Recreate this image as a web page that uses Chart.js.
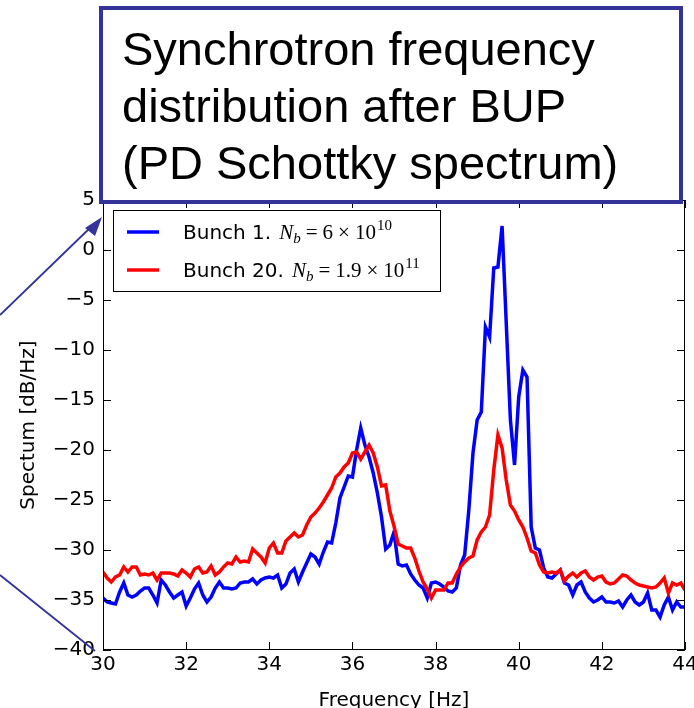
<!DOCTYPE html>
<html>
<head>
<meta charset="utf-8">
<script src="https://cdn.jsdelivr.net/npm/chart.js@4.4.1/dist/chart.umd.min.js"></script>
<style>
    body { margin: 0; background: #fff; }
    canvas { display: block; }
</style>
</head>
<body>
<canvas id="espectro" width="694" height="708"></canvas>
<script>
// Frequências [Hz]
const frequencias = [
    30.0, 30.1, 30.2, 30.3, 30.4, 30.5, 30.6, 30.7, 30.8, 30.9,
    31.0, 31.1, 31.2, 31.3, 31.4, 31.5, 31.6, 31.7, 31.8, 31.9,
    32.0, 32.1, 32.2, 32.3, 32.4, 32.5, 32.6, 32.7, 32.8, 32.9,
    33.0, 33.1, 33.2, 33.3, 33.4, 33.5, 33.6, 33.7, 33.8, 33.9,
    34.0, 34.1, 34.2, 34.3, 34.4, 34.5, 34.6, 34.7, 34.8, 34.9,
    35.0, 35.1, 35.2, 35.3, 35.4, 35.5, 35.6, 35.7, 35.8, 35.9,
    36.0, 36.1, 36.2, 36.3, 36.4, 36.5, 36.6, 36.7, 36.8, 36.9,
    37.0, 37.1, 37.2, 37.3, 37.4, 37.5, 37.6, 37.7, 37.8, 37.9,
    38.0, 38.1, 38.2, 38.3, 38.4, 38.5, 38.6, 38.7, 38.8, 38.9,
    39.0, 39.1, 39.2, 39.3, 39.4, 39.5, 39.6, 39.7, 39.8, 39.9,
    40.0, 40.1, 40.2, 40.3, 40.4, 40.5, 40.6, 40.7, 40.8, 40.9,
    41.0, 41.1, 41.2, 41.3, 41.4, 41.5, 41.6, 41.7, 41.8, 41.9,
    42.0, 42.1, 42.2, 42.3, 42.4, 42.5, 42.6, 42.7, 42.8, 42.9,
    43.0, 43.1, 43.2, 43.3, 43.4, 43.5, 43.6, 43.7, 43.8, 43.9,
    44.0
];

// Bunch 1 [dB/Hz]
const bunch1 = [
    -34.8, -35.2, -35.3, -35.4, -34.2, -33.3, -34.5, -34.7, -34.5, -34.1,
    -33.8, -33.8, -34.5, -35.3, -33.0, -33.5, -34.2, -34.8, -34.5, -34.2,
    -35.6, -34.8, -33.9, -33.3, -34.5, -35.2, -34.7, -33.8, -33.2, -33.8,
    -33.8, -33.9, -33.8, -33.3, -33.2, -33.2, -32.9, -33.4, -33.0, -32.8,
    -32.7, -32.8, -32.5, -33.8, -33.4, -32.3, -31.9, -33.2, -32.2, -31.3,
    -30.4, -30.7, -31.4, -30.2, -29.2, -29.3, -27.3, -24.8, -23.7, -22.6,
    -22.7, -20.0, -17.8, -19.5, -20.7, -22.3, -24.3, -26.7, -29.9, -29.5,
    -28.2, -31.4, -31.6, -31.5, -32.4, -33.0, -33.5, -33.8, -34.8, -33.3,
    -33.2, -33.4, -33.7, -34.1, -34.2, -33.8, -31.5, -30.5, -26.0, -20.3,
    -17.0, -16.2, -7.7, -8.7, -1.8, -1.7, 2.4, -7.3, -17.0, -21.5,
    -14.7, -12.0, -12.7, -27.7, -29.8, -30.0, -31.8, -32.7, -32.8, -32.4,
    -32.0, -33.3, -33.5, -34.5, -33.5, -33.2, -34.2, -34.8, -35.2, -35.0,
    -34.7, -35.2, -35.2, -35.3, -35.1, -35.7, -35.0, -34.5, -35.2, -35.5,
    -35.2, -34.3, -36.0, -36.0, -36.7, -35.5, -34.7, -36.0, -35.2, -35.7,
    -35.7
];

// Bunch 20 [dB/Hz]
const bunch20 = [
    -32.2, -32.8, -33.2, -32.7, -32.5, -31.7, -32.2, -31.7, -31.7, -32.5,
    -32.4, -32.5, -32.3, -33.0, -32.3, -32.3, -32.3, -32.4, -32.6, -32.0,
    -32.3, -32.7, -31.9, -31.7, -32.3, -32.2, -31.6, -32.5, -32.2, -31.7,
    -31.3, -31.4, -30.7, -31.2, -31.1, -31.2, -29.9, -30.3, -30.7, -31.3,
    -29.8, -29.3, -30.3, -30.3, -29.1, -28.7, -28.3, -28.7, -28.5, -27.5,
    -26.7, -26.3, -25.8, -25.2, -24.5, -23.8, -22.7, -22.3, -21.7, -21.3,
    -20.3, -20.2, -20.9, -20.2, -19.5, -20.3, -21.7, -23.6, -23.5, -26.1,
    -27.6, -29.4, -29.6, -29.8, -29.8, -30.8, -32.1, -33.2, -33.9, -34.8,
    -34.0, -34.0, -34.0, -33.3, -33.3, -32.4, -31.7, -31.2, -30.8, -30.6,
    -29.0, -28.2, -27.7, -26.5, -22.0, -18.5, -19.8, -23.0, -25.5, -26.1,
    -27.0, -27.7, -28.8, -30.1, -30.3, -31.5, -32.2, -32.3, -32.2, -32.3,
    -32.0, -33.1, -32.6, -32.3, -32.7, -32.3, -32.1, -32.7, -33.0, -32.7,
    -32.6, -33.2, -33.4, -33.3, -32.9, -32.5, -32.6, -33.0, -33.3, -33.5,
    -33.6, -33.7, -33.8, -33.7, -33.3, -32.8, -34.3, -33.3, -33.5, -33.3,
    -34.0
];

// Legenda: nome, mantissa e expoente de N_b
const nomes = ['Bunch 1.', 'Bunch 20.'];
const mantissas = ['6', '1.9'];
const expoentes = ['10', '11'];
const cores = ['#0000ff', '#ff0000'];

const tituloCaixa = ['Synchrotron frequency', 'distribution after BUP', '(PD Schottky spectrum)'];
const tituloX = 'Frequency [Hz]';
const tituloY = 'Spectum [dB/Hz]';

const AZUL_SLIDE = '#333399';
const fonteEixo = 'DejaVu Sans';
const fonteMat = 'Liberation Serif';

function montarPontos(valores) {
    var pontos = [];
    for (var i = 0; i < frequencias.length; i++) {
        pontos.push({ x: frequencias[i], y: valores[i] });
    }
    return pontos;
}

function desenharLegenda(chart) {
    const ctx = chart.ctx;
    const area = chart.chartArea;
    const x0 = area.left + 10, y0 = area.top + 10;
    ctx.save();
    ctx.fillStyle = '#fff';
    ctx.fillRect(x0, y0, 327, 81);
    ctx.strokeStyle = '#000';
    ctx.lineWidth = 1;
    ctx.strokeRect(x0 + 0.5, y0 + 0.5, 327, 81);

    for (var i = 0; i < nomes.length; i++) {
        const yLinha = y0 + 22 + i * 38;
        ctx.strokeStyle = cores[i];
        ctx.lineWidth = 3.5;
        ctx.beginPath();
        ctx.moveTo(x0 + 14, yLinha);
        ctx.lineTo(x0 + 46, yLinha);
        ctx.stroke();

        var x = x0 + 70;
        const base = yLinha + 7;
        ctx.fillStyle = '#000';
        ctx.textBaseline = 'alphabetic';
        ctx.textAlign = 'left';
        ctx.font = '20px "' + fonteEixo + '"';
        ctx.fillText(nomes[i], x, base);
        x += ctx.measureText(nomes[i]).width + 8;

        ctx.font = 'italic 21px "' + fonteMat + '"';
        ctx.fillText('N', x, base);
        x += ctx.measureText('N').width;
        ctx.font = 'italic 15px "' + fonteMat + '"';
        ctx.fillText('b', x, base + 4);
        x += ctx.measureText('b').width + 5;

        ctx.font = '21px "' + fonteMat + '"';
        ctx.fillText('=', x, base);
        x += ctx.measureText('=').width + 5;
        ctx.fillText(mantissas[i], x, base);
        x += ctx.measureText(mantissas[i]).width + 5;
        ctx.fillText('\u00d7', x, base);
        x += ctx.measureText('\u00d7').width + 5;
        ctx.fillText('10', x, base);
        x += ctx.measureText('10').width + 1;
        ctx.font = '15px "' + fonteMat + '"';
        ctx.fillText(expoentes[i], x, base - 9);
    }
    ctx.restore();
}

const molduraPlugin = {
    id: 'moldura',
    afterDatasetsDraw(chart) {
        const ctx = chart.ctx;
        const area = chart.chartArea;
        const sx = chart.scales.x, sy = chart.scales.y;
        ctx.save();
        ctx.strokeStyle = '#000';
        ctx.lineWidth = 1;
        ctx.strokeRect(area.left + 0.5, area.top + 0.5, area.right - area.left - 1, area.bottom - area.top - 1);
        // ticks para dentro, nos quatro lados
        ctx.beginPath();
        sx.ticks.forEach(t => {
            const px = Math.round(sx.getPixelForValue(t.value)) + 0.5;
            ctx.moveTo(px, area.bottom); ctx.lineTo(px, area.bottom - 8);
            ctx.moveTo(px, area.top); ctx.lineTo(px, area.top + 8);
        });
        sy.ticks.forEach(t => {
            const py = Math.round(sy.getPixelForValue(t.value)) + 0.5;
            ctx.moveTo(area.left, py); ctx.lineTo(area.left + 8, py);
            ctx.moveTo(area.right, py); ctx.lineTo(area.right - 8, py);
        });
        ctx.stroke();
        ctx.restore();
        desenharLegenda(chart);
    },
    afterDraw(chart) {
        const ctx = chart.ctx;
        const area = chart.chartArea;
        ctx.save();
        // títulos dos eixos
        ctx.fillStyle = '#000';
        ctx.font = '20px "' + fonteEixo + '"';
        ctx.textAlign = 'center';
        ctx.textBaseline = 'alphabetic';
        ctx.fillText(tituloX, (area.left + area.right) / 2, 706);
        ctx.translate(29, (area.top + area.bottom) / 2);
        ctx.rotate(-Math.PI / 2);
        ctx.textBaseline = 'middle';
        ctx.fillText(tituloY, 0, 0);
        ctx.setTransform(1, 0, 0, 1, 0, 0);

        // setas do slide
        ctx.strokeStyle = AZUL_SLIDE;
        ctx.fillStyle = AZUL_SLIDE;
        ctx.lineWidth = 1.8;
        ctx.beginPath();
        ctx.moveTo(0, 315);
        ctx.lineTo(92, 226);
        ctx.moveTo(0, 575);
        ctx.lineTo(95, 651);
        ctx.stroke();
        ctx.beginPath();
        ctx.moveTo(102, 217);
        ctx.lineTo(85, 228);
        ctx.lineTo(95, 236);
        ctx.closePath();
        ctx.fill();

        // caixa de título
        ctx.fillStyle = '#fff';
        ctx.fillRect(101, 8, 580, 194);
        ctx.lineWidth = 4;
        ctx.strokeStyle = AZUL_SLIDE;
        ctx.strokeRect(101, 8, 580, 194);
        ctx.fillStyle = '#000';
        ctx.font = '47px "Liberation Sans"';
        ctx.textAlign = 'left';
        ctx.textBaseline = 'alphabetic';
        for (var i = 0; i < tituloCaixa.length; i++) {
            ctx.fillText(tituloCaixa[i], 122, 65 + i * 57);
        }
        ctx.restore();
    }
};

function sinal(v) {
    return String(v).replace('-', '\u2212');
}

const ctx = document.getElementById('espectro').getContext('2d');
new Chart(ctx, {
    type: 'line',
    data: {
        datasets: [{
            label: nomes[0],
            data: montarPontos(bunch1),
            borderColor: cores[0],
            borderWidth: 3.5,
            pointRadius: 0,
            tension: 0,
            order: 2
        }, {
            label: nomes[1],
            data: montarPontos(bunch20),
            borderColor: cores[1],
            borderWidth: 3.5,
            pointRadius: 0,
            tension: 0,
            order: 1
        }]
    },
    options: {
        responsive: false,
        animation: false,
        devicePixelRatio: 1,
        layout: { padding: { left: 0, top: 200, right: 9, bottom: 0 } },
        plugins: {
            legend: { display: false },
            tooltip: { enabled: false }
        },
        scales: {
            x: {
                type: 'linear',
                min: 30,
                max: 44,
                afterFit: s => { s.height = 58; s.paddingLeft = 0; s.paddingRight = 0; },
                grid: { display: false, drawTicks: false },
                border: { display: false },
                ticks: {
                    stepSize: 2,
                    padding: 3,
                    color: '#000',
                    font: { family: fonteEixo, size: 20 },
                    callback: v => sinal(v)
                }
            },
            y: {
                min: -40,
                max: 5,
                afterFit: s => { s.width = 103; s.paddingTop = 0; s.paddingBottom = 0; },
                grid: { display: false, drawTicks: false },
                border: { display: false },
                ticks: {
                    stepSize: 5,
                    padding: 8,
                    color: '#000',
                    font: { family: fonteEixo, size: 20 },
                    callback: v => sinal(v)
                }
            }
        }
    },
    plugins: [molduraPlugin]
});
</script>
</body>
</html>
